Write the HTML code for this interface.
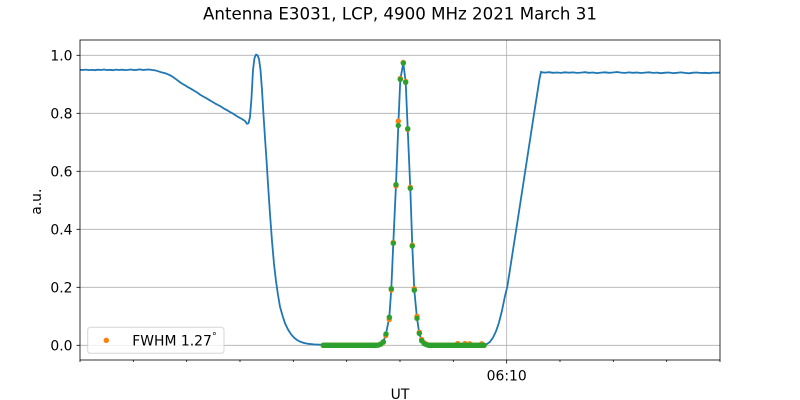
<!DOCTYPE html>
<html>
<head>
<meta charset="utf-8">
<style>
html,body{margin:0;padding:0;background:#fff;}
svg{display:block;}
text{font-family:"DejaVu Sans","Liberation Sans",sans-serif;fill:#000;}
</style>
</head>
<body>
<svg width="800" height="400" viewBox="0 0 800 400" xmlns="http://www.w3.org/2000/svg">
<rect x="0" y="0" width="800" height="400" fill="#fff"/>
<text x="400" y="19.5" font-size="16.67" text-anchor="middle">Antenna E3031, LCP, 4900 MHz 2021 March 31</text>

<!-- grid -->
<g stroke="#b0b0b0" stroke-width="0.8" fill="none">
<line x1="80" y1="345.3" x2="720" y2="345.3"/>
<line x1="80" y1="287.3" x2="720" y2="287.3"/>
<line x1="80" y1="229.3" x2="720" y2="229.3"/>
<line x1="80" y1="171.3" x2="720" y2="171.3"/>
<line x1="80" y1="113.3" x2="720" y2="113.3"/>
<line x1="80" y1="55.3" x2="720" y2="55.3"/>
<line x1="506.67" y1="40" x2="506.67" y2="360"/>
</g>

<!-- main line -->
<path fill="none" stroke="#1f77b4" stroke-width="1.8" stroke-linejoin="round" stroke-linecap="butt" d="M80,69.8 L83,70.0 86,69.6 89,70.1 92,69.9 95,70.2 98,69.7 101,70.0 104,69.5 107,70.1 110,69.8 113,70.2 116,69.6 119,70.0 122,69.7 125,70.1 128,69.9 131,69.5 134,70.1 137,69.8 140,69.4 143,70.0 146,69.7 149,69.5 152,70.0 155,70.3 158,71.2 161,72.2 164,72.9 167,73.9 170,75.2 173,77.0 176,79.2 179,81.5 182,83.6 185,85.3 188,87.2 191,88.8 194,90.6 197,92.4 200,94.6 203,96.4 206,98.0 209,99.8 212,101.6 215,103.4 218,105.0 221,106.6 224,108.6 227,110.2 230,112.0 233,113.6 236,115.6 239,117.4 242,119.0 245,121.0 247,123.8 248.5,123.2 250,117 251.5,98 253,70 254.5,58 256,54.6 257.5,55.2 259,59 260.5,70 262,90 263.5,115 265,138 266.5,160 268,184 270,214 272,241 274,264 276,281 278,295 280,306.7 282.5,315.5 285,323.3 288,329.5 291,334.2 294,337.6 297,340 300,341.6 304,343 308,343.8 314,344.4 322,344.8 350,345.1 378.5,345.0 380.9,344.1 383.3,341.8 386,334 389.3,317.2 391.3,288.7 393.3,243.2 396,184.6 398.3,125.5 400.3,79.4 403.3,63.1 405.7,82.3 407.7,128.7 410.3,188.4 412.3,246.1 414.3,290.2 417,318.3 419.3,333.4 421.7,340.7 424.1,343.6 426.5,344.7 440,345.1 470,345.0 484,344.8 487,344 490,341.8 493,337.6 496,331.3 499,322.5 502,310.5 505,296 507.3,286.7 510,269.5 513,250 516,231 519,211.5 522,192 525,172.5 528,153 531,133.5 534,114 537,95 539.5,79 541,71.8 542,72.3 545,72.6 549,72.2 553,72.8 557,72.5 561,72.9 565,72.3 569,72.7 573,72.4 577,72.9 581,72.6 585,72.2 589,72.8 593,72.5 597,73.1 601,72.6 605,72.3 609,72.8 613,72.5 617,72.0 621,72.6 625,72.9 629,72.4 633,72.8 637,72.5 641,73.0 645,72.6 649,72.3 653,72.9 657,72.6 661,73.2 665,72.7 669,72.5 673,73.1 677,72.8 681,72.4 685,72.9 689,73.3 693,72.7 697,72.5 701,73.0 705,72.8 709,73.2 713,72.6 717,72.8 720,72.5"/>

<!-- orange scatter -->
<g fill="#ff7f0e">
<line x1="323.3" y1="345.3" x2="376.1" y2="345.3" stroke="#ff7f0e" stroke-width="5.4" stroke-linecap="round"/>
<line x1="428.9" y1="345.3" x2="484.1" y2="345.3" stroke="#ff7f0e" stroke-width="5.4" stroke-linecap="round"/>
<circle cx="457.7" cy="343.6" r="2.7"/>
<circle cx="464.9" cy="343.6" r="2.7"/>
<circle cx="469.7" cy="343.8" r="2.7"/>
<circle cx="481.7" cy="343.8" r="2.7"/>
<circle cx="378.5" cy="345.0" r="2.7"/>
<circle cx="380.9" cy="344.0" r="2.7"/>
<circle cx="383.3" cy="342.3" r="2.7"/>
<circle cx="385.8" cy="335.5" r="2.7"/>
<circle cx="389.3" cy="319.5" r="2.7"/>
<circle cx="391.3" cy="290" r="2.7"/>
<circle cx="393.3" cy="242.5" r="2.7"/>
<circle cx="396" cy="185.8" r="2.7"/>
<circle cx="398.3" cy="121.1" r="2.7"/>
<circle cx="400.3" cy="78.5" r="2.7"/>
<circle cx="403.3" cy="62.5" r="2.7"/>
<circle cx="405.7" cy="81.5" r="2.7"/>
<circle cx="407.7" cy="129.3" r="2.7"/>
<circle cx="410.3" cy="187.3" r="2.7"/>
<circle cx="412.3" cy="245.2" r="2.7"/>
<circle cx="414.3" cy="288.7" r="2.7"/>
<circle cx="417" cy="316.3" r="2.7"/>
<circle cx="419.3" cy="332.3" r="2.7"/>
<circle cx="421.7" cy="339.5" r="2.7"/>
<circle cx="424.1" cy="342.8" r="2.7"/>
<circle cx="426.5" cy="344.3" r="2.7"/>
</g>

<!-- green scatter -->
<g fill="#2ca02c">
<line x1="323.3" y1="345.3" x2="376.1" y2="345.3" stroke="#2ca02c" stroke-width="5.4" stroke-linecap="round"/>
<line x1="428.9" y1="345.3" x2="484.1" y2="345.3" stroke="#2ca02c" stroke-width="5.4" stroke-linecap="round"/>
<circle cx="378.5" cy="345.0" r="2.7"/>
<circle cx="380.9" cy="344.1" r="2.7"/>
<circle cx="383.3" cy="341.8" r="2.7"/>
<circle cx="386" cy="334" r="2.7"/>
<circle cx="389.3" cy="317.2" r="2.7"/>
<circle cx="391.3" cy="288.7" r="2.7"/>
<circle cx="393.3" cy="243.2" r="2.7"/>
<circle cx="396" cy="184.6" r="2.7"/>
<circle cx="398.3" cy="125.5" r="2.7"/>
<circle cx="400.3" cy="79.4" r="2.7"/>
<circle cx="403.3" cy="63.1" r="2.7"/>
<circle cx="405.7" cy="82.3" r="2.7"/>
<circle cx="407.7" cy="128.7" r="2.7"/>
<circle cx="410.3" cy="188.4" r="2.7"/>
<circle cx="412.3" cy="246.1" r="2.7"/>
<circle cx="414.3" cy="290.2" r="2.7"/>
<circle cx="417" cy="318.3" r="2.7"/>
<circle cx="419.3" cy="333.4" r="2.7"/>
<circle cx="421.7" cy="340.7" r="2.7"/>
<circle cx="424.1" cy="343.6" r="2.7"/>
<circle cx="426.5" cy="344.7" r="2.7"/>
</g>

<!-- spines -->
<rect x="80" y="40" width="640" height="320" fill="none" stroke="#000" stroke-width="0.8"/>

<!-- ticks -->
<g stroke="#000" stroke-width="0.8">
<line x1="76.5" y1="345.3" x2="80" y2="345.3"/>
<line x1="76.5" y1="287.3" x2="80" y2="287.3"/>
<line x1="76.5" y1="229.3" x2="80" y2="229.3"/>
<line x1="76.5" y1="171.3" x2="80" y2="171.3"/>
<line x1="76.5" y1="113.3" x2="80" y2="113.3"/>
<line x1="76.5" y1="55.3" x2="80" y2="55.3"/>
<line x1="506.67" y1="360" x2="506.67" y2="363.5"/>
<line x1="80" y1="360" x2="80" y2="362"/>
<line x1="133.33" y1="360" x2="133.33" y2="362"/>
<line x1="186.67" y1="360" x2="186.67" y2="362"/>
<line x1="240" y1="360" x2="240" y2="362"/>
<line x1="293.33" y1="360" x2="293.33" y2="362"/>
<line x1="346.67" y1="360" x2="346.67" y2="362"/>
<line x1="400" y1="360" x2="400" y2="362"/>
<line x1="453.33" y1="360" x2="453.33" y2="362"/>
<line x1="560" y1="360" x2="560" y2="362"/>
<line x1="613.33" y1="360" x2="613.33" y2="362"/>
<line x1="666.67" y1="360" x2="666.67" y2="362"/>
<line x1="720" y1="360" x2="720" y2="362"/>
</g>

<g font-size="13.9" text-anchor="end">
<text x="72.5" y="350.3">0.0</text>
<text x="72.5" y="292.3">0.2</text>
<text x="72.5" y="234.3">0.4</text>
<text x="72.5" y="176.3">0.6</text>
<text x="72.5" y="118.3">0.8</text>
<text x="72.5" y="60.3">1.0</text>
</g>
<text x="506.67" y="380.5" font-size="13.9" text-anchor="middle">06:10</text>
<text x="400" y="399" font-size="13.9" text-anchor="middle">UT</text>
<text x="41" y="201.7" font-size="13.9" text-anchor="middle" transform="rotate(-90 41 201.7)">a.u.</text>

<!-- legend -->
<rect x="87.7" y="327.3" width="136.3" height="26" rx="2.8" ry="2.8" fill="#fff" fill-opacity="0.8" stroke="#cccccc" stroke-opacity="0.8" stroke-width="1"/>
<circle cx="106.3" cy="340.3" r="2.7" fill="#ff7f0e"/>
<text x="132.3" y="345.3" font-size="13.9">FWHM 1.27</text>
<text x="212" y="339.5" font-size="9.5">°</text>
</svg>
</body>
</html>
